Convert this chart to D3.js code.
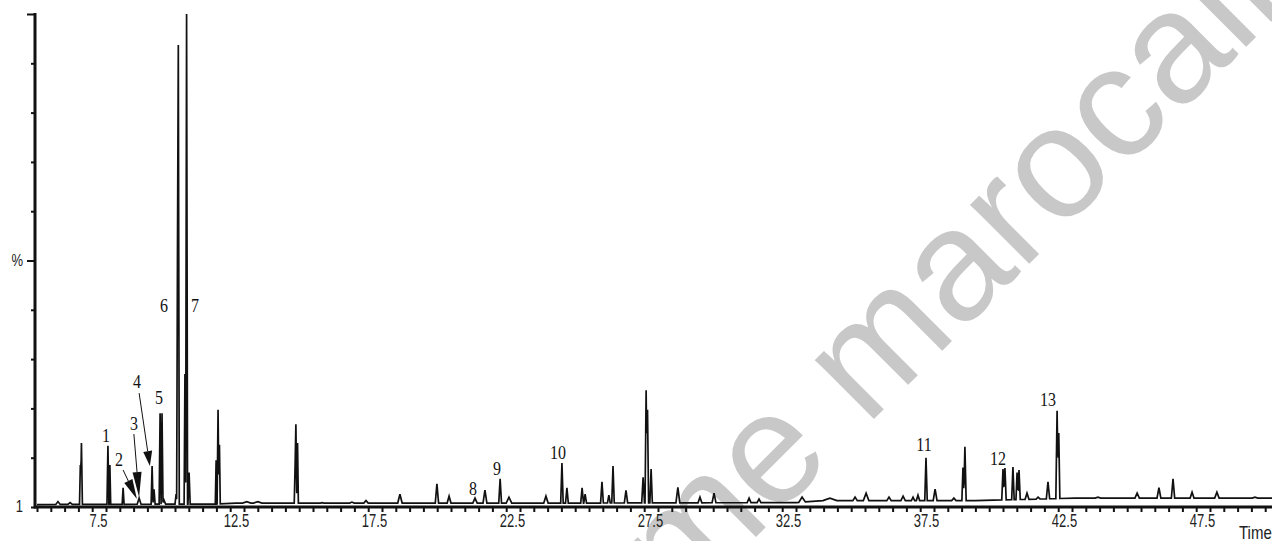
<!DOCTYPE html>
<html lang="en">
<head>
<meta charset="UTF-8">
<title>Chromatogram</title>
<style>
  body { margin: 0; background: #fff; }
  svg { display: block; }
</style>
</head>
<body>
<svg id="chart" width="1272" height="541"></svg>
<script src="https://cdn.jsdelivr.net/npm/d3@7"></script>
<script>
// peaks: retention time (min), apex (%), half width (min)
const peakTime = [5.76, 6.20, 6.57, 6.61, 7.57, 7.64, 8.12, 8.70, 9.17, 9.24, 9.46, 9.53, 9.60,
  10.04, 10.09, 10.12, 10.36, 10.42, 10.51, 11.49, 11.56, 11.61, 12.6, 13.0,
  14.35, 14.38, 14.44, 15.33, 16.41, 16.92, 18.15, 19.49, 19.93, 20.87, 21.23, 21.78, 22.10,
  23.44, 24.02, 24.20, 24.75, 24.86, 25.47, 25.72, 25.87, 26.34, 26.96, 27.07, 27.12, 27.25,
  28.22, 29.02, 29.53, 30.80, 31.16, 32.72, 33.73, 34.64, 35.04, 35.87, 36.38, 36.74, 36.92,
  37.21, 37.54, 38.22, 38.55, 38.62, 40.00, 40.07, 40.36, 40.51, 40.58, 40.87, 41.27, 41.63,
  41.96, 42.02, 43.44, 44.86, 45.65, 46.16, 46.85, 47.75, 49.13];
const peakHeight = [1.1, 0.9, 8.5, 13.0, 12.4, 8.5, 3.9, 1.8, 8.3, 3.6, 19.0, 19.0, 1.4,
  2.6, 52.5, 93.7, 27.0, 100, 7.0, 9.5, 19.7, 12.6, 1.1, 1.1,
  8.0, 16.8, 13.0, 0.9, 1.0, 1.3, 2.6, 4.7, 2.2, 1.8, 3.4, 5.7, 2.0,
  2.2, 8.9, 3.9, 3.9, 2.6, 5.1, 2.4, 8.3, 3.4, 6.0, 23.7, 19.7, 7.7,
  4.0, 2.0, 2.8, 1.8, 1.6, 2.0, 1.8, 2.0, 2.8, 2.0, 2.2, 2.0, 2.4,
  10.0, 3.6, 1.8, 8.0, 12.2, 7.7, 7.9, 8.1, 7.0, 7.5, 2.8, 2.0, 5.1,
  19.5, 15.0, 2.0, 2.8, 3.9, 5.7, 3.0, 3.0, 2.0];
const peakHalfWidth = [0.08, 0.08, 0.03, 0.035, 0.035, 0.03, 0.035, 0.07, 0.035, 0.04, 0.035, 0.035, 0.06,
  0.04, 0.03, 0.035, 0.03, 0.035, 0.04, 0.03, 0.035, 0.03, 0.15, 0.15,
  0.03, 0.035, 0.03, 0.06, 0.08, 0.08, 0.08, 0.06, 0.07, 0.08, 0.07, 0.05, 0.1,
  0.08, 0.045, 0.05, 0.05, 0.05, 0.05, 0.05, 0.045, 0.06, 0.05, 0.04, 0.04, 0.045,
  0.07, 0.07, 0.07, 0.07, 0.07, 0.12, 0.25, 0.08, 0.1, 0.08, 0.08, 0.06, 0.06,
  0.045, 0.07, 0.08, 0.04, 0.045, 0.045, 0.045, 0.045, 0.04, 0.045, 0.07, 0.07, 0.06,
  0.045, 0.04, 0.1, 0.08, 0.07, 0.06, 0.07, 0.08, 0.1];

// baseline drift
const baseTime = [5, 11.5, 12.2, 25, 32.5, 33.5, 39, 42.6, 50];
const baseLevel = [0.5, 0.6, 0.8, 0.8, 0.9, 1.3, 1.3, 1.8, 1.8];

// numbered compounds
const peakLabelText = ['1', '2', '3', '4', '5', '6', '7', '8', '9', '10', '11', '12', '13'];
const peakLabelTime = [7.50, 7.97, 8.51, 8.62, 9.42, 9.60, 10.72, 20.80, 21.67, 23.88, 37.14, 39.82, 41.63];
const peakLabelLevel = [13.2, 8.3, 15.6, 24.1, 20.9, 39.6, 39.6, 2.4, 6.5, 9.7, 11.4, 8.5, 20.5];

// arrows for 2, 3, 4 : [time, %] from -> to
const arrowFrom = [[8.12, 7.5], [8.51, 14.8], [8.70, 23.1]];
const arrowTo = [[8.62, 1.6], [8.70, 2.0], [9.09, 8.3]];
const arrowHeadLength = [20, 25, 15];

// axes
const xLabelValues = [7.5, 12.5, 17.5, 22.5, 27.5, 32.5, 37.5, 42.5, 47.5];
const xLabelText = ['7.5', '12.5', '17.5', '22.5', '27.5', '32.5', '37.5', '42.5', '47.5'];
const yLabelValues = [0, 50];
const yLabelText = ['1', '%'];

const svg = d3.select('#chart');

const x = d3.scaleLinear().domain([5, 50]).range([37, 1279]);
const y = d3.scaleLinear().domain([0, 100]).range([507, 14]);
const base = d3.scaleLinear().domain(baseTime).range(baseLevel).clamp(true);

// watermark (sits under everything)
svg.append('text')
    .attr('transform', 'translate(680,613) rotate(-45)')
    .attr('font-family', 'Liberation Sans, Arial, sans-serif')
    .attr('font-size', 158)
    .attr('fill', '#c8c8c8')
    .text('me marocaine');

// build the trace from the peak list
const peaks = peakTime.map((t, i) => ({t: t, h: peakHeight[i], hw: peakHalfWidth[i]}));
let times = new Set(baseTime);
peaks.forEach(p => { times.add(p.t - p.hw); times.add(p.t); times.add(p.t + p.hw); });
times = Array.from(times).filter(t => t >= 5 && t <= 50).sort((a, b) => a - b);

const trace = times.map(t => {
    const bump = d3.max(peaks, p => Math.max(0, (p.h - base(p.t)) * (1 - Math.abs(t - p.t) / p.hw)));
    return {t: t, v: base(t) + bump};
});

const line = d3.line().x(d => x(d.t)).y(d => y(d.v));

svg.append('path')
    .datum(trace)
    .attr('d', line)
    .attr('fill', 'none')
    .attr('stroke', '#111')
    .attr('stroke-width', 1.7)
    .attr('stroke-linejoin', 'miter');

// x axis
const xAxis = d3.axisBottom(x)
    .tickValues(d3.range(5, 50.01, 0.5))
    .tickSize(5)
    .tickSizeOuter(0)
    .tickFormat(d => {
        const i = xLabelValues.findIndex(v => Math.abs(v - d) < 1e-6);
        return i >= 0 ? xLabelText[i] : '';
    });

const gx = svg.append('g').attr('transform', 'translate(0,507)').call(xAxis);
gx.select('.domain').remove();
gx.selectAll('.tick line').attr('stroke', '#111').attr('stroke-width', 2);
gx.selectAll('.tick text')
    .attr('y', null).attr('dy', null)
    .attr('transform', 'translate(-8,20) scale(1,1.4)')
    .attr('font-family', 'Liberation Sans, Arial, sans-serif')
    .attr('font-size', 13)
    .attr('fill', '#222');

svg.append('line')
    .attr('x1', 34).attr('x2', 1272).attr('y1', 507).attr('y2', 507)
    .attr('stroke', '#111').attr('stroke-width', 3);

// y axis
const yAxis = d3.axisLeft(y)
    .tickValues(d3.range(0, 100.01, 10))
    .tickSize(4)
    .tickSizeOuter(0)
    .tickFormat('');

const gy = svg.append('g').attr('transform', 'translate(35,0)').call(yAxis);
gy.select('.domain').remove();
gy.selectAll('.tick line')
    .attr('stroke', '#111').attr('stroke-width', 2)
    .attr('x2', d => (d === 50 || d === 100) ? -8 : -4);

svg.append('line')
    .attr('x1', 35).attr('x2', 35).attr('y1', 13).attr('y2', 508.5)
    .attr('stroke', '#111').attr('stroke-width', 3);

svg.selectAll('text.ylab')
    .data(yLabelValues)
    .join('text')
    .attr('class', 'ylab')
    .attr('transform', d => `translate(23,${y(d) + 5}) scale(1,1.25)`)
    .attr('text-anchor', 'end')
    .attr('font-family', 'Liberation Sans, Arial, sans-serif')
    .attr('font-size', 13)
    .attr('fill', '#222')
    .text((d, i) => yLabelText[i]);

svg.append('text')
    .attr('transform', 'translate(1239,539) scale(1,1.25)')
    .attr('font-family', 'Liberation Sans, Arial, sans-serif')
    .attr('font-size', 15)
    .attr('fill', '#222')
    .text('Time');

// peak numbers
svg.selectAll('text.plab')
    .data(peakLabelText)
    .join('text')
    .attr('class', 'plab')
    .attr('transform', (d, i) => `translate(${x(peakLabelTime[i])},${y(peakLabelLevel[i])}) scale(1,1.2)`)
    .attr('text-anchor', 'middle')
    .attr('font-family', 'Liberation Serif, Times New Roman, serif')
    .attr('font-size', 16)
    .attr('fill', '#111')
    .text(d => d);

// arrows
arrowFrom.forEach((from, i) => {
    const x0 = x(from[0]), y0 = y(from[1]);
    const x1 = x(arrowTo[i][0]), y1 = y(arrowTo[i][1]);
    const len = Math.hypot(x1 - x0, y1 - y0);
    const ux = (x1 - x0) / len, uy = (y1 - y0) / len;
    const L = arrowHeadLength[i], w = 4.5;
    const bx = x1 - L * ux, by = y1 - L * uy;
    svg.append('line')
        .attr('x1', x0).attr('y1', y0).attr('x2', bx).attr('y2', by)
        .attr('stroke', '#111').attr('stroke-width', 1);
    svg.append('polygon')
        .attr('points', [[x1, y1], [bx - w * uy, by + w * ux], [bx + w * uy, by - w * ux]].map(p => p.join(',')).join(' '))
        .attr('fill', '#111');
});
</script>
</body>
</html>
